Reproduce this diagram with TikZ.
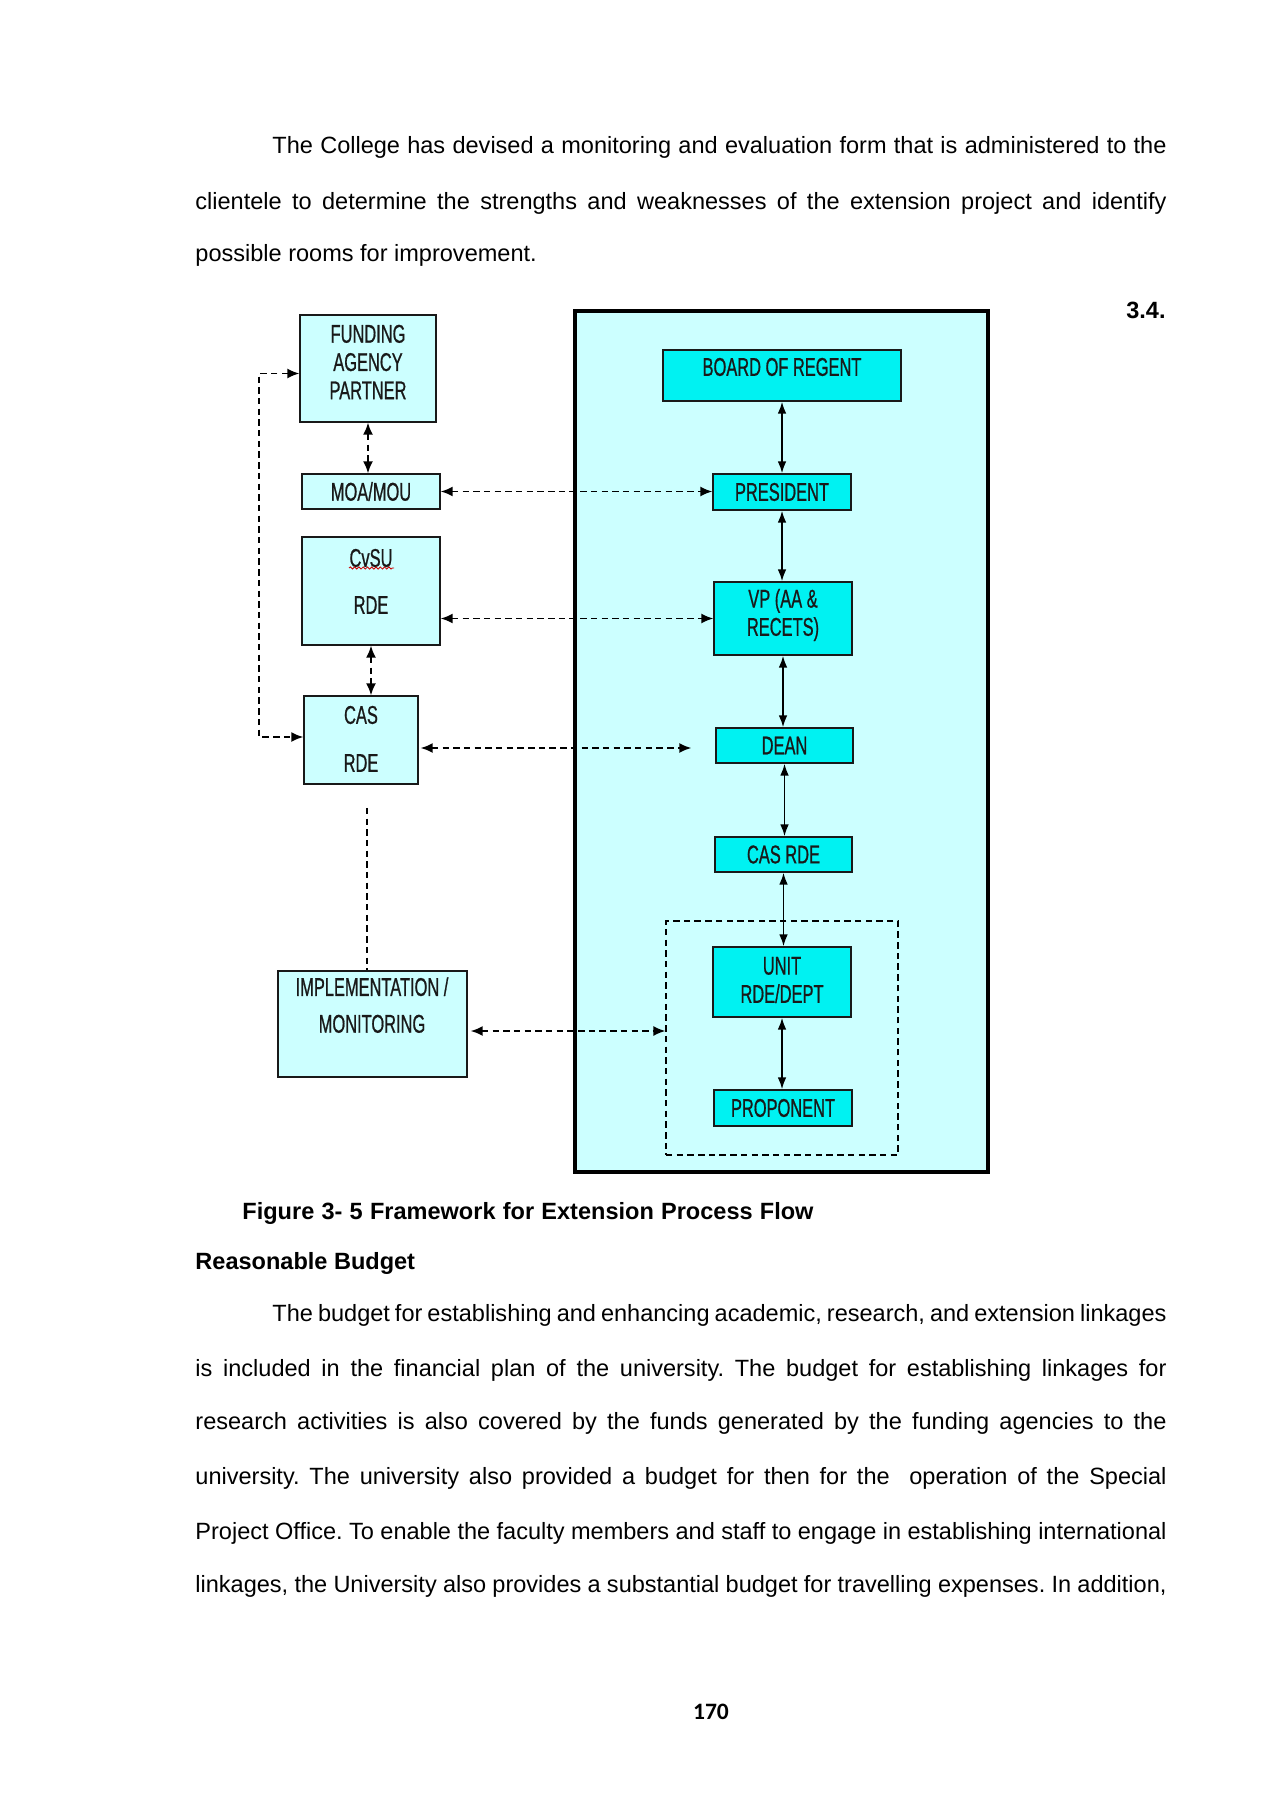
\documentclass[tikz,border=0pt]{standalone}
\usepackage{fontspec}
\setmainfont{Liberation Sans}
\newfontfamily\diagfont[FakeStretch=0.64,FakeBold=0.7]{Liberation Sans}
\newfontfamily\bodyfont{Liberation Sans}
\newfontfamily\numfont{Carlito}
\usetikzlibrary{arrows.meta,calc,fit,decorations.pathmorphing}
\definecolor{lcyan}{HTML}{CCFFFF}
\definecolor{ccyan}{HTML}{00F2F2}
\tikzset{
  lbox/.style={draw=black!90, line width=0.75pt, fill=lcyan, inner sep=0pt},
  cbox/.style={draw=black!90, line width=0.75pt, fill=ccyan, inner sep=0pt},
  lbl/.style={font=\diagfont\fontsize{12}{13.2}\selectfont, align=center, inner sep=0pt, text=black!90},
  dline/.style={line width=0.7pt, dash pattern=on 3pt off 2pt},
  darr/.style={dline, {Latex[length=5.5pt,width=4.6pt]}-{Latex[length=5.5pt,width=4.6pt]}},
  sarr/.style={line width=0.7pt, {Latex[length=5.5pt,width=4pt]}-{Latex[length=5.5pt,width=4pt]}},
  body/.style={font=\bodyfont\frenchspacing\fontsize{11}{13}\selectfont, inner sep=0pt, anchor=west},
  bodyb/.style={font=\bodyfont\frenchspacing\bfseries\fontsize{11}{13}\selectfont, inner sep=0pt, anchor=west}
}
\begin{document}
\begin{tikzpicture}[x=0.4675pt,y=-0.4675pt]
\useasboundingbox (0,0) rectangle (1273,1800);
\fill[white] (0,0) rectangle (1273,1800);

% top paragraph
\node[body] (t1) at (272,147) {\hbox to 418pt{The College has devised a monitoring and evaluation form that is administered to the}};
\node[body] (t2) at (195,203) {\hbox to 454pt{clientele to determine the strengths and weaknesses of the extension project and identify}};
\node[body] (t3) at (195,255) {possible rooms for improvement.};
\node[bodyb, anchor=east] (sec) at (1166,310) {3.4.};

% big box
\node[fit={(575,311) (988,1172)}, draw=black, line width=1.6pt, fill=lcyan, inner sep=0pt] (big) {};
\node[fit={(666,921) (898,1155)}, draw=black, dline, inner sep=0pt] (dbox) {};

% right column
\node[cbox, fit={(663,350) (901,401)}] (bor) {};
\node[lbl] (borl) at (782,367) {BOARD OF REGENT};
\node[cbox, fit={(713,474) (851,510)}] (pres) {};
\node[lbl] (presl) at (pres) {PRESIDENT};
\node[cbox, fit={(714,582) (852,655)}] (vp) {};
\node[lbl] (vpl) at (783,615) {VP (AA \&\\RECETS)};
\node[cbox, fit={(716,728) (853,763)}] (dean) {};
\node[lbl] (deanl) at (dean) {DEAN};
\node[cbox, fit={(715,837) (852,872)}] (casr) {};
\node[lbl] (casrl) at (casr) {CAS RDE};
\node[cbox, fit={(713,947) (851,1017)}] (unit) {};
\node[lbl] (unitl) at (782,980) {UNIT\\RDE/DEPT};
\node[cbox, fit={(714,1090) (852,1126)}] (prop) {};
\node[lbl] (propl) at (prop) {PROPONENT};

% left column
\node[lbox, fit={(300,315) (436,422)}] (fund) {};
\node[lbl] (fundl) at (368,362) {FUNDING\\AGENCY\\PARTNER};
\node[lbox, fit={(302,474) (440,509)}] (moa) {};
\node[lbl] (moal) at (moa) {MOA/MOU};
\node[lbox, fit={(302,537) (440,645)}] (cvsu) {};
\node[lbl] (cvsul) at (371,558) {CvSU};
\node[lbl] (cvsur) at (371,605) {RDE};
\node[lbox, fit={(304,696) (418,784)}] (casl) {};
\node[lbl] (casll) at (361,715) {CAS};
\node[lbl] (caslr) at (361,763) {RDE};
\node[lbox, fit={(278,971) (467,1077)}] (impl) {};
\node[lbl, text depth=0pt] (impll) at (372,1005) {IMPLEMENTATION /\\[4pt]MONITORING};

% spell-check squiggle under CvSU
\coordinate (sq1) at (349,568);
\coordinate (sq2) at (394,568);
\draw[red!80!black, line width=0.4pt, decorate, decoration={snake, amplitude=0.5pt, segment length=2pt}] (sq1) -- (sq2);

% solid arrows
\draw[sarr] (bor.south) -- (bor.south |- pres.north);
\draw[sarr] (pres.south) -- (pres.south |- vp.north);
\draw[sarr] (vp.south) -- (vp.south |- dean.north);
\draw[sarr] (dean.south) -- (dean.south |- casr.north);
\draw[sarr] (casr.south) -- (casr.south |- unit.north);
\draw[sarr] (unit.south) -- (unit.south |- prop.north);

% dashed arrows
\draw[darr] (fund.south) -- (fund.south |- moa.north);
\draw[darr] (cvsu.south) -- (cvsu.south |- casl.north);
\draw[darr] (moa.east) -- (moa.east -| pres.west);
\draw[darr] (vp.west -| cvsu.east) -- (vp.west);
\coordinate (cd1) at ($(casl.east)+(2,8)$);
\coordinate (cd2) at ($(dean.west)+(-24,2.5)$);
\draw[darr] (cd1) -- (cd1 -| cd2);
\coordinate (id1) at ($(impl.east)+(3,7)$);
\draw[darr] (id1) -- (id1 -| dbox.west);
\draw[darr] ($(fund.west)+(0,5)$) -- ++(-40,0) |- ($(casl.west)+(0,-3)$);
\coordinate (cv1) at ($(casl.south)+(6,23)$);
\draw[dline] (cv1) -- (cv1 |- impl.north);

% caption and lower text
\node[bodyb] (cap) at (242,1213) {\hbox to 267pt{Figure 3- 5 Framework for Extension Process Flow}};
\node[bodyb] (rb) at (195,1263) {Reasonable Budget};
\node[body] (p1) at (272,1315.5) {\hbox to 418pt{The budget for establishing and enhancing academic, research, and extension linkages}};
\node[body] (p2) at (195,1370.6) {\hbox to 454pt{is included in the financial plan of the university. The budget for establishing linkages for}};
\node[body] (p3) at (195,1423.4) {\hbox to 454pt{research activities is also covered by the funds generated by the funding agencies to the}};
\node[body] (p4) at (195,1478.5) {\hbox to 454pt{university. The university also provided a budget for then for the \ operation of the Special}};
\node[body] (p5) at (195,1533.6) {\hbox to 454pt{Project Office. To enable the faculty members and staff to engage in establishing international}};
\node[body] (p6) at (195,1586.4) {\hbox to 454pt{linkages, the University also provides a substantial budget for travelling expenses. In addition,}};
\node[font=\numfont\bfseries\fontsize{11}{13}\selectfont, inner sep=0pt] (pg) at (711,1711.5) {170};
\end{tikzpicture}
\end{document}
